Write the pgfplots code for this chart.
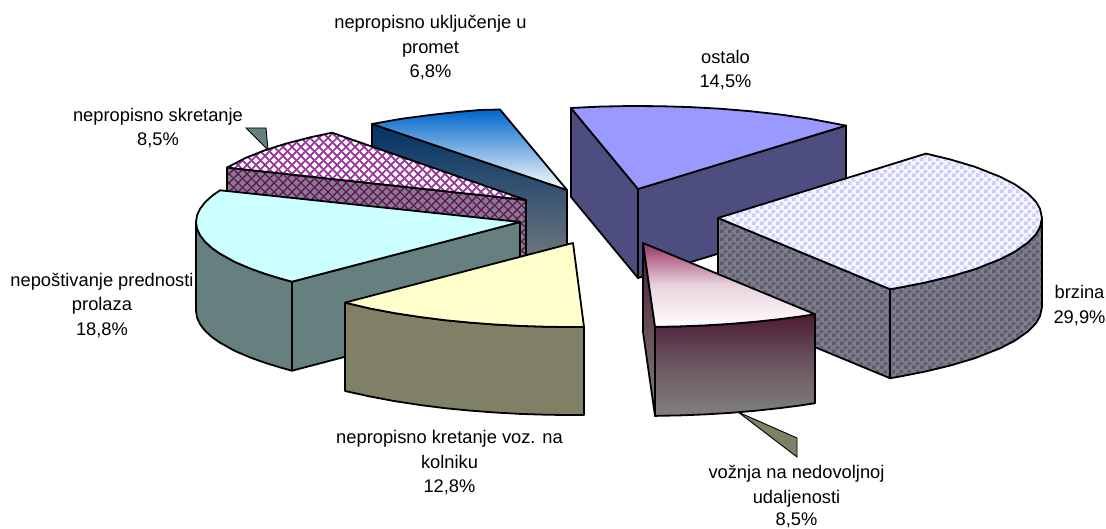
\documentclass[border=0pt]{standalone}
\usepackage{fontspec}
\setmainfont{Liberation Sans}
\usepackage{pgfplots}
\pgfplotsset{compat=1.18}
\usetikzlibrary{patterns}
\pgfdeclarepatternformonly{chk}{\pgfqpoint{0pt}{0pt}}{\pgfqpoint{8pt}{8pt}}{\pgfqpoint{8pt}{8pt}}{%
  \pgfpathrectangle{\pgfqpoint{0pt}{0pt}}{\pgfqpoint{4pt}{4pt}}%
  \pgfpathrectangle{\pgfqpoint{4pt}{4pt}}{\pgfqpoint{4pt}{4pt}}%
  \pgfusepath{fill}}
\pgfdeclarepatternformonly{trel}{\pgfqpoint{0pt}{0pt}}{\pgfqpoint{9pt}{9pt}}{\pgfqpoint{9pt}{9pt}}{%
  \pgfsetlinewidth{1.9pt}%
  \pgfpathmoveto{\pgfqpoint{-1pt}{-1pt}}\pgfpathlineto{\pgfqpoint{10pt}{10pt}}%
  \pgfpathmoveto{\pgfqpoint{-1pt}{10pt}}\pgfpathlineto{\pgfqpoint{10pt}{-1pt}}%
  \pgfusepath{stroke}}
\pgfdeclarepatternformonly{treld}{\pgfqpoint{0pt}{0pt}}{\pgfqpoint{9pt}{9pt}}{\pgfqpoint{9pt}{9pt}}{%
  \pgfsetlinewidth{1.3pt}%
  \pgfpathmoveto{\pgfqpoint{-1pt}{-1pt}}\pgfpathlineto{\pgfqpoint{10pt}{10pt}}%
  \pgfpathmoveto{\pgfqpoint{-1pt}{10pt}}\pgfpathlineto{\pgfqpoint{10pt}{-1pt}}%
  \pgfusepath{stroke}}
\definecolor{peri}{HTML}{9999FF}
\definecolor{perid}{HTML}{4D4D80}
\definecolor{lav}{HTML}{CCCCFF}
\definecolor{cyant}{HTML}{CCFFFF}
\definecolor{cyand}{HTML}{668080}
\definecolor{yel}{HTML}{FFFFCC}
\definecolor{yeld}{HTML}{808066}
\definecolor{wine}{HTML}{993366}
\definecolor{wined}{HTML}{4D1A33}
\definecolor{blu}{HTML}{0066CC}
\definecolor{blud}{HTML}{003366}
\definecolor{purp}{HTML}{800080}
\definecolor{gry}{HTML}{808080}
\begin{document}
\begin{tikzpicture}[lbl/.style={anchor=base,font=\fontsize{18.3}{24.7}\selectfont,inner sep=0pt,text=black}]
\useasboundingbox (0,0) rectangle (1106pt,529pt);
\begin{axis}[at={(0,0)},anchor=south west,scale only axis,width=1106pt,height=529pt,xmin=0,xmax=1106,ymin=0,ymax=529,y dir=reverse,axis lines=none,clip=false,
 edge/.style={draw=black,line width=1.8pt,line join=round}]
% periwinkle "ostalo"
\addplot[edge,fill=perid] coordinates {(571,108)(638,189)(638,278)(571,197)} -- cycle;
\addplot[edge,fill=perid] coordinates {(638,189)(846,125.6)(846,215)(638,278)} -- cycle;
\addplot[edge,fill=peri] coordinates {(571,108)(600,106.6)(630,106)(660,106.2)(690,107.1)(720,108.7)(750,111.2)(780,114.5)(810,118.8)(846,125.6)(638,189)} -- cycle;
% blue
\addplot[edge,top color=blud,bottom color=gry] coordinates {(372,124)(567,190)(567,279)(372,213)} -- cycle;
\addplot[edge,top color=blu,bottom color=white] coordinates {(372,124)(400,119)(430,115)(460,111.7)(480,110)(500,109.5)(567,190)} -- cycle;
% leader skretanje
\addplot[draw=black,line width=0.9pt,fill=cyand] coordinates {(246,128)(266,128)(268,150)} -- cycle;
% pink
\addplot[draw=none,fill=gry] coordinates {(227,167.6)(526,200)(526,289)(227,256.6)} -- cycle;
\addplot[edge,pattern=treld,pattern color=purp!85!black] coordinates {(227,167.6)(526,200)(526,289)(227,256.6)} -- cycle;
\addplot[draw=none,fill=white] coordinates {(227,167.6)(245,158.2)(265,150.2)(285,143.9)(310,137.4)(332,132.7)(526,200)} -- cycle;
\addplot[edge,pattern=trel,pattern color=purp!80!white] coordinates {(227,167.6)(245,158.2)(265,150.2)(285,143.9)(310,137.4)(332,132.7)(526,200)} -- cycle;
% cyan
\addplot[edge,fill=cyand] coordinates {(292,281.7)(520,222)(520,311)(292,370.7)} -- cycle;
\addplot[edge,fill=cyand] coordinates {(196,222)(197,228.6)(200,235.1)(205,241.7)(212,248.1)(220,253.7)(235,262)(250,268.4)(265,273.8)(280,278.4)(292,281.7)(292,370.7)(280,367.4)(265,362.8)(250,357.4)(235,351)(220,342.7)(212,337.1)(205,330.7)(200,324.1)(197,317.6)(196,311)} -- cycle;
\addplot[edge,fill=cyant] coordinates {(220,190.3)(212,195.9)(205,202.3)(200,208.9)(197,215.4)(196,222)(197,228.6)(200,235.1)(205,241.7)(212,248.1)(220,253.7)(235,262)(250,268.4)(265,273.8)(280,278.4)(292,281.7)(520,222)} -- cycle;
% brzina
\addplot[draw=none,fill=gry] coordinates {(718,218)(890,289.2)(890,378.2)(718,307)} -- cycle;
\addplot[edge,pattern=chk,pattern color=perid!75!gry] coordinates {(718,218)(890,289.2)(890,378.2)(718,307)} -- cycle;
\addplot[draw=none,fill=gry] coordinates {(1042,218)(1040,227.2)(1036,234.2)(1028,242.4)(1015,251.6)(1000,259.3)(975,269.2)(950,276.6)(925,282.6)(900,287.5)(890,289.2)(890,378.2)(900,376.5)(925,371.6)(950,365.6)(975,358.2)(1000,348.3)(1015,340.6)(1028,331.4)(1036,323.2)(1040,316.2)(1042,307)} -- cycle;
\addplot[edge,pattern=chk,pattern color=perid!75!gry] coordinates {(1042,218)(1040,227.2)(1036,234.2)(1028,242.4)(1015,251.6)(1000,259.3)(975,269.2)(950,276.6)(925,282.6)(900,287.5)(890,289.2)(890,378.2)(900,376.5)(925,371.6)(950,365.6)(975,358.2)(1000,348.3)(1015,340.6)(1028,331.4)(1036,323.2)(1040,316.2)(1042,307)} -- cycle;
\addplot[draw=none,fill=lav!15!white] coordinates {(718,218)(926,153.6)(950,159.4)(975,166.8)(1000,176.7)(1015,184.4)(1028,193.6)(1036,201.8)(1040,208.8)(1042,218)(1040,227.2)(1036,234.2)(1028,242.4)(1015,251.6)(1000,259.3)(975,269.2)(950,276.6)(925,282.6)(900,287.5)(890,289.2)} -- cycle;
\addplot[edge,pattern=chk,pattern color=lav] coordinates {(718,218)(926,153.6)(950,159.4)(975,166.8)(1000,176.7)(1015,184.4)(1028,193.6)(1036,201.8)(1040,208.8)(1042,218)(1040,227.2)(1036,234.2)(1028,242.4)(1015,251.6)(1000,259.3)(975,269.2)(950,276.6)(925,282.6)(900,287.5)(890,289.2)} -- cycle;
% leader vožnja
\addplot[draw=black,line width=0.9pt,fill=yeld] coordinates {(738,412)(797,438)(797,457)} -- cycle;
% wine
\addplot[edge,top color=wined,bottom color=gry] coordinates {(643,243)(655,326.9)(655,415.9)(643,332)} -- cycle;
\addplot[edge,top color=wined,bottom color=gry,middle color=gry!60!wined] coordinates {(655,326.9)(680,326.4)(705,325.4)(730,323.9)(755,321.8)(780,319.1)(800,316.5)(815,314.2)(815,403.2)(800,405.5)(780,408.1)(755,410.8)(730,412.9)(705,414.4)(680,415.4)(655,415.9)} -- cycle;
\addplot[edge,top color=wine,bottom color=white,middle color=wine!22!white] coordinates {(643,243)(815,314.2)(800,316.5)(780,319.1)(755,321.8)(730,323.9)(705,325.4)(680,326.4)(655,326.9)} -- cycle;
% yellow
\addplot[edge,fill=yeld] coordinates {(345,302.6)(370,308.5)(395,313.2)(420,317)(445,320.2)(470,322.6)(495,324.5)(520,325.9)(545,326.7)(565,327)(584,327)(584,415)(565,415)(545,414.7)(520,413.9)(495,412.5)(470,410.6)(445,408.2)(420,405)(395,401.2)(370,396.5)(345,391)} -- cycle;
\addplot[edge,fill=yel] coordinates {(345,302.6)(370,308.5)(395,313.2)(420,317)(445,320.2)(470,322.6)(495,324.5)(520,325.9)(545,326.7)(565,327)(584,327)(573,243)} -- cycle;
% labels
\node[lbl] at (axis cs:430.5,29) {nepropisno uključenje u};
\node[lbl] at (axis cs:430.5,54) {promet};
\node[lbl] at (axis cs:430.5,78) {6,8\%};
\node[lbl] at (axis cs:725.5,64) {ostalo};
\node[lbl] at (axis cs:725.5,88) {14,5\%};
\node[lbl] at (axis cs:158,122) {nepropisno skretanje};
\node[lbl] at (axis cs:158,146) {8,5\%};
\node[lbl] at (axis cs:102,287) {nepoštivanje prednosti};
\node[lbl] at (axis cs:102,311) {prolaza};
\node[lbl] at (axis cs:102,336) {18,8\%};
\node[lbl] at (axis cs:1079.5,299) {brzina};
\node[lbl] at (axis cs:1079.5,324) {29,9\%};
\node[lbl] at (axis cs:449.5,443) {nepropisno kretanje voz. na};
\node[lbl] at (axis cs:449.5,468) {kolniku};
\node[lbl] at (axis cs:449.5,492) {12,8\%};
\node[lbl] at (axis cs:796.5,478) {vožnja na nedovoljnoj};
\node[lbl] at (axis cs:796.5,503) {udaljenosti};
\node[lbl] at (axis cs:796.5,525) {8,5\%};
\end{axis}
\end{tikzpicture}
\end{document}
